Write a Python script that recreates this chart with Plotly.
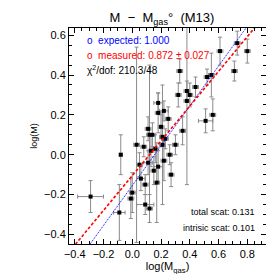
import numpy as np
import plotly.graph_objects as go

# data
log_mgas = [-0.29, -0.09, -0.01, 0.03, 0.09, 0.12, 0.17, -0.08, 0.00, 0.08, 0.13, 0.11, 0.18, 0.15, 0.22,
            0.11, 0.14, 0.18, 0.20, 0.22, 0.21, 0.23, 0.18, 0.33, 0.32, 0.38, 0.38, 0.44, 0.52, 0.55,
            0.61, 0.71, 0.73, 0.80, 0.51, 0.56, 0.12, 0.21, 0.05, 0.26, 0.30, 0.27, 0.35, 0.06, 0.16,
            0.25, 0.09, 0.40]
log_mgas_err = [0.09, 0.04, 0.02, 0.02, 0.02, 0.02, 0.02, 0.01, 0.02, 0.02, 0.02, 0.03, 0.03, 0.02, 0.02,
                0.02, 0.02, 0.02, 0.02, 0.03, 0.02, 0.02, 0.03, 0.02, 0.02, 0.02, 0.02, 0.02, 0.02, 0.02,
                0.02, 0.02, 0.02, 0.02, 0.05, 0.02, 0.02, 0.02, 0.02, 0.02, 0.02, 0.02, 0.02, 0.03, 0.02,
                0.02, 0.06, 0.02]
log_m = [-0.21, -0.29, -0.22, 0.05, -0.15, -0.27, -0.14, 0.00, -0.19, 0.04, 0.02, -0.04, -0.06, -0.08, -0.03,
         0.13, 0.10, 0.21, 0.14, 0.22, 0.09, 0.08, 0.26, 0.42, 0.30, 0.32, 0.27, 0.34, 0.39, 0.40,
         0.52, 0.42, 0.56, 0.52, 0.17, 0.20, 0.10, 0.05, -0.05, 0.00, 0.05, -0.10, 0.12, -0.12, 0.03,
         0.18, -0.25, 0.30]
log_m_err = [0.08, 0.14, 0.10, 0.49, 0.05, 0.07, 0.20, 0.10, 0.10, 0.05, 0.08, 0.06, 0.08, 0.07, 0.10,
             0.06, 0.06, 0.10, 0.06, 0.05, 0.05, 0.05, 0.05, 0.06, 0.06, 0.05, 0.42, 0.05, 0.04, 0.11,
             0.07, 0.05, 0.06, 0.06, 0.06, 0.08, 0.35, 0.30, 0.06, 0.05, 0.05, 0.06, 0.07, 0.06, 0.07,
             0.06, 0.05, 0.06]

slope_expected = 1.000
icpt_expected = -0.155
slope_measured = 0.872
icpt_measured = -0.105

x_range = [-0.44, 0.93]
y_range = [-0.448, 0.636]

xl = np.linspace(x_range[0], x_range[1], 50)

fig = go.Figure()
fig.add_trace(go.Scatter(
    x=log_mgas, y=log_m, mode="markers",
    marker=dict(symbol="square", size=4, color="black"),
    error_x=dict(type="data", array=log_mgas_err, color="#8a8a8a", thickness=1, width=2),
    error_y=dict(type="data", array=log_m_err, color="#8a8a8a", thickness=1, width=2),
    showlegend=False, cliponaxis=True))
fig.add_trace(go.Scatter(x=xl, y=slope_expected * xl + icpt_expected, mode="lines",
                         line=dict(color="blue", width=1, dash="1px,1px"), showlegend=False))
fig.add_trace(go.Scatter(x=xl, y=slope_measured * xl + icpt_measured, mode="lines",
                         line=dict(color="red", width=1.6, dash="3px,2px"), showlegend=False))

font = "Liberation Sans, Arial, sans-serif"
axis_common = dict(showgrid=False, zeroline=False, showline=True, linecolor="black", linewidth=1,
                   mirror="allticks", ticks="inside", ticklen=5, tickcolor="black",
                   minor=dict(ticks="inside", ticklen=3, tickcolor="black", showgrid=False),
                   tickfont=dict(family=font, size=11, color="black"))
fig.update_xaxes(range=x_range, dtick=0.2, tick0=0, minor_dtick=0.05, tickformat=".1f",
                 title=dict(text="log(M<sub>gas</sub>)", font=dict(family=font, size=11, color="black"), standoff=2),
                 **axis_common)
fig.update_yaxes(range=y_range, dtick=0.2, tick0=0, minor_dtick=0.05, tickformat=".1f",
                 title=dict(text="log(M)", font=dict(family=font, size=9, color="black"), standoff=4),
                 **axis_common)

ann = [
    dict(x=0.08, y=0.94, text="o  expected: 1.000", color="blue"),
    dict(x=0.08, y=0.872, text="o  measured: 0.872 ± 0.027", color="red"),
    dict(x=0.08, y=0.804, text="χ<sup>2</sup>/dof: 210.3/48", color="black"),
]
annotations = [dict(xref="paper", yref="paper", x=a["x"], y=a["y"], text=a["text"], showarrow=False,
                    xanchor="left", yanchor="middle", font=dict(family=font, size=10, color=a["color"]))
               for a in ann]
annotations += [
    dict(xref="paper", yref="paper", x=0.955, y=0.15, text="total scat: 0.131", showarrow=False,
         xanchor="right", yanchor="middle", font=dict(family=font, size=9, color="black")),
    dict(xref="paper", yref="paper", x=0.955, y=0.075, text="intrisic scat: 0.101", showarrow=False,
         xanchor="right", yanchor="middle", font=dict(family=font, size=9, color="black")),
]

fig.update_layout(
    width=274, height=274,
    margin=dict(l=61, r=16, t=20, b=35),
    paper_bgcolor="white", plot_bgcolor="white",
    title=dict(text="M  −  M<sub>gas</sub>°  (M13)", x=0.562, xanchor="center", y=0.965, yanchor="middle",
               font=dict(family=font, size=13, color="black")),
    annotations=annotations,
)
fig.write_html("out.html")
